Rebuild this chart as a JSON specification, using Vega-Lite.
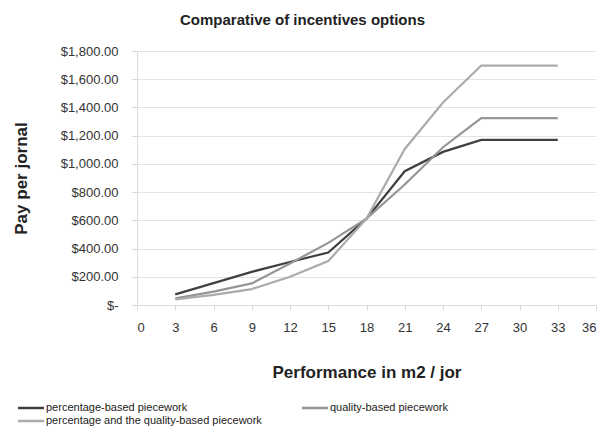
{
  "$schema": "https://vega.github.io/schema/vega-lite/v6.json",
  "autosize": {"type": "none"},
  "width": 459,
  "height": 254,
  "padding": {"left": 137, "top": 51, "right": 9, "bottom": 127},
  "background": "white",
  "config": {
    "font": "Liberation Sans",
    "view": {"stroke": null}
  },
  "title": {
    "text": "Comparative of incentives options",
    "font": "Liberation Sans",
    "fontSize": 15,
    "fontWeight": "bold",
    "color": "#222222",
    "anchor": "middle",
    "dx": -64,
    "offset": 17
  },
  "data": {
    "values": [
      {"x": 3, "pay": 75, "series": "percentage-based piecework"},
      {"x": 6, "pay": 155, "series": "percentage-based piecework"},
      {"x": 9, "pay": 235, "series": "percentage-based piecework"},
      {"x": 12, "pay": 305, "series": "percentage-based piecework"},
      {"x": 15, "pay": 372, "series": "percentage-based piecework"},
      {"x": 18, "pay": 612, "series": "percentage-based piecework"},
      {"x": 21, "pay": 948, "series": "percentage-based piecework"},
      {"x": 24, "pay": 1085, "series": "percentage-based piecework"},
      {"x": 27, "pay": 1170, "series": "percentage-based piecework"},
      {"x": 30, "pay": 1170, "series": "percentage-based piecework"},
      {"x": 33, "pay": 1170, "series": "percentage-based piecework"},
      {"x": 3, "pay": 47, "series": "quality-based piecework"},
      {"x": 6, "pay": 95, "series": "quality-based piecework"},
      {"x": 9, "pay": 153, "series": "quality-based piecework"},
      {"x": 12, "pay": 294, "series": "quality-based piecework"},
      {"x": 15, "pay": 440, "series": "quality-based piecework"},
      {"x": 18, "pay": 612, "series": "quality-based piecework"},
      {"x": 21, "pay": 854, "series": "quality-based piecework"},
      {"x": 24, "pay": 1118, "series": "quality-based piecework"},
      {"x": 27, "pay": 1325, "series": "quality-based piecework"},
      {"x": 30, "pay": 1325, "series": "quality-based piecework"},
      {"x": 33, "pay": 1325, "series": "quality-based piecework"},
      {"x": 3, "pay": 40, "series": "percentage and the quality-based piecework"},
      {"x": 6, "pay": 72, "series": "percentage and the quality-based piecework"},
      {"x": 9, "pay": 113, "series": "percentage and the quality-based piecework"},
      {"x": 12, "pay": 200, "series": "percentage and the quality-based piecework"},
      {"x": 15, "pay": 311, "series": "percentage and the quality-based piecework"},
      {"x": 18, "pay": 612, "series": "percentage and the quality-based piecework"},
      {"x": 21, "pay": 1106, "series": "percentage and the quality-based piecework"},
      {"x": 24, "pay": 1435, "series": "percentage and the quality-based piecework"},
      {"x": 27, "pay": 1697, "series": "percentage and the quality-based piecework"},
      {"x": 30, "pay": 1697, "series": "percentage and the quality-based piecework"},
      {"x": 33, "pay": 1697, "series": "percentage and the quality-based piecework"}
    ]
  },
  "mark": {"type": "line", "strokeWidth": 2.2, "interpolate": "linear"},
  "encoding": {
    "x": {
      "field": "x",
      "type": "quantitative",
      "scale": {"domain": [0, 36], "nice": false, "zero": true},
      "axis": {
        "title": "Performance in m2 / jor",
        "titleFont": "Liberation Sans",
        "titleFontSize": 17,
        "titleFontWeight": "bold",
        "titleColor": "#222222",
        "titlePadding": 30,
        "values": [0, 3, 6, 9, 12, 15, 18, 21, 24, 27, 30, 33, 36],
        "labelFontSize": 13,
        "labelColor": "#333333",
        "labelPadding": 11,
        "grid": false,
        "domainColor": "#d9d9d9",
        "tickColor": "#d9d9d9",
        "tickSize": 5
      }
    },
    "y": {
      "field": "pay",
      "type": "quantitative",
      "scale": {"domain": [0, 1800], "nice": false},
      "axis": {
        "title": "Pay per jornal",
        "titleFont": "Liberation Sans",
        "titleFontSize": 17,
        "titleFontWeight": "bold",
        "titleColor": "#222222",
        "titlePadding": 30,
        "values": [0, 200, 400, 600, 800, 1000, 1200, 1400, 1600, 1800],
        "labelExpr": "datum.value == 0 ? '$-' : '$' + format(datum.value, ',.2f')",
        "labelFontSize": 13,
        "labelColor": "#333333",
        "labelPadding": 14,
        "grid": true,
        "gridColor": "#e3e3e3",
        "domainColor": "#d9d9d9",
        "tickColor": "#d9d9d9",
        "tickSize": 5
      }
    },
    "color": {
      "field": "series",
      "type": "nominal",
      "sort": ["percentage-based piecework", "percentage and the quality-based piecework", "quality-based piecework"],
      "scale": {
        "domain": ["percentage-based piecework", "percentage and the quality-based piecework", "quality-based piecework"],
        "range": ["#404040", "#ababab", "#959595"]
      },
      "legend": {
        "title": null,
        "orient": "none",
        "legendX": -114,
        "legendY": 349,
        "columns": 2,
        "columnPadding": 35,
        "rowPadding": 0,
        "symbolType": "M-2,0H2",
        "symbolSize": 169,
        "symbolStrokeWidth": 2.5,
        "labelFontSize": 11,
        "labelLimit": 400,
        "labelColor": "#222222",
        "labelOffset": 7
      }
    }
  }
}
